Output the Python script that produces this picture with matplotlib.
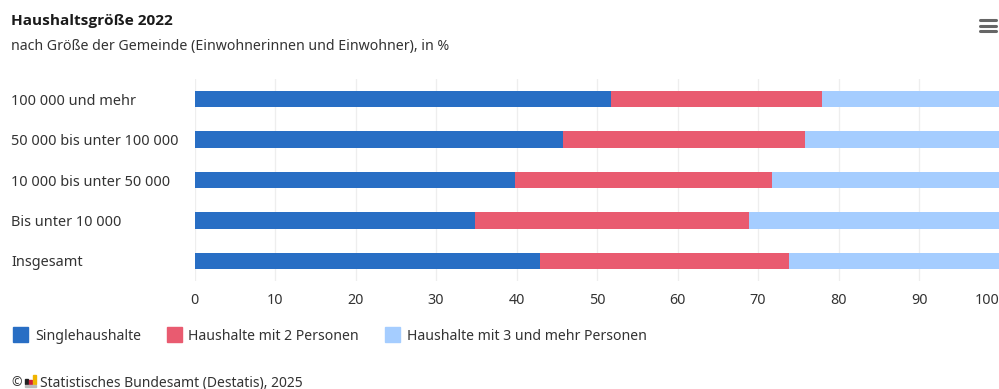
import numpy as np
import matplotlib
matplotlib.use("Agg")
import matplotlib.pyplot as plt
from matplotlib.patches import Rectangle

plt.rcParams['font.family'] = ['Noto Sans', 'DejaVu Sans']

categories = ["100 000 und mehr", "50 000 bis unter 100 000", "10 000 bis unter 50 000",
              "Bis unter 10 000", "Insgesamt"]
single = [51.8, 45.8, 39.8, 34.9, 42.9]
zwei = [26.1, 30.0, 32.0, 34.0, 31.0]
drei = [22.1, 24.2, 28.2, 31.1, 26.1]
names = ["Singlehaushalte", "Haushalte mit 2 Personen", "Haushalte mit 3 und mehr Personen"]
colors = ["#286ec4", "#e95b70", "#a5cdff"]
ticks = [0, 10, 20, 30, 40, 50, 60, 70, 80, 90, 100]

W, H = 999, 389
text_col = "#333333"

fig = plt.figure(figsize=(W / 100, H / 100), dpi=100)
ax = fig.add_axes([194.5 / W, 1 - 281 / H, (999.5 - 194.5) / W, (281 - 79) / H])

y = np.arange(len(categories))
left = np.zeros(len(categories))
for vals, name, col in zip([single, zwei, drei], names, colors):
    ax.barh(y, vals, left=left, height=0.41, color=col, label=name, zorder=3)
    left = left + np.array(vals)

ax.set_xlim(0, 100)
ax.set_ylim(len(categories) - 0.5, -0.5)
ax.set_yticks(y)
ax.set_yticklabels(categories, ha="left", fontsize=10.45, color=text_col)
ax.tick_params(axis="y", length=0, pad=183.5 * 0.72)
ax.set_xticks(ticks)
ax.set_xticklabels([str(t) for t in ticks], fontsize=10.3, color=text_col)
ax.get_xticklabels()[-1].set_ha("right")
ax.tick_params(axis="x", length=0, pad=9)
ax.grid(axis="x", color="#eeeeee", lw=0.9, zorder=0)
for s in ax.spines.values():
    s.set_visible(False)

def fx(px):
    return px / W

def fy(px):
    return 1 - px / H

fig.text(fx(11), fy(21), "Haushaltsgröße 2022", fontsize=11.1, fontweight="bold",
         family="Open Sans", color="#1a1a1a", va="center")
fig.text(fx(11), fy(46.5), "nach Größe der Gemeinde (Einwohnerinnen und Einwohner), in %",
         fontsize=10.2, color=text_col, va="center")

# legend placed by hand, same gaps as the original
for sq, tx, name, col in zip([13, 167, 385], [35, 188.5, 407], names, colors):
    fig.add_artist(Rectangle((fx(sq), fy(342)), 15 / W, 15 / H, color=col,
                             transform=fig.transFigure))
    fig.text(fx(tx), fy(336.5), name, fontsize=10.15, color=text_col, va="center")

# footer, little logo
fig.text(fx(11), fy(383), "©", fontsize=9, color=text_col, va="center")
for bx, bh, col in zip([25, 29, 33], [5, 4, 9], ["#222222", "#d0203a", "#f0b400"]):
    fig.add_artist(Rectangle((fx(bx), fy(384)), 2.5 / W, bh / H, color=col,
                             transform=fig.transFigure))
fig.add_artist(Rectangle((fx(24.5), fy(387)), 11.5 / W, 2.5 / H, color="#bbbbbb",
                         transform=fig.transFigure))
fig.text(fx(40), fy(383), "Statistisches Bundesamt (Destatis), 2025", fontsize=10,
         color=text_col, va="center")

# menu icon
for py in [20, 25.5, 31]:
    fig.add_artist(plt.Line2D([fx(979.5), fx(995.5)], [fy(py), fy(py)], color="#666666",
                              lw=2.2, solid_capstyle="round", transform=fig.transFigure))

fig.savefig("out.png", dpi=100)
